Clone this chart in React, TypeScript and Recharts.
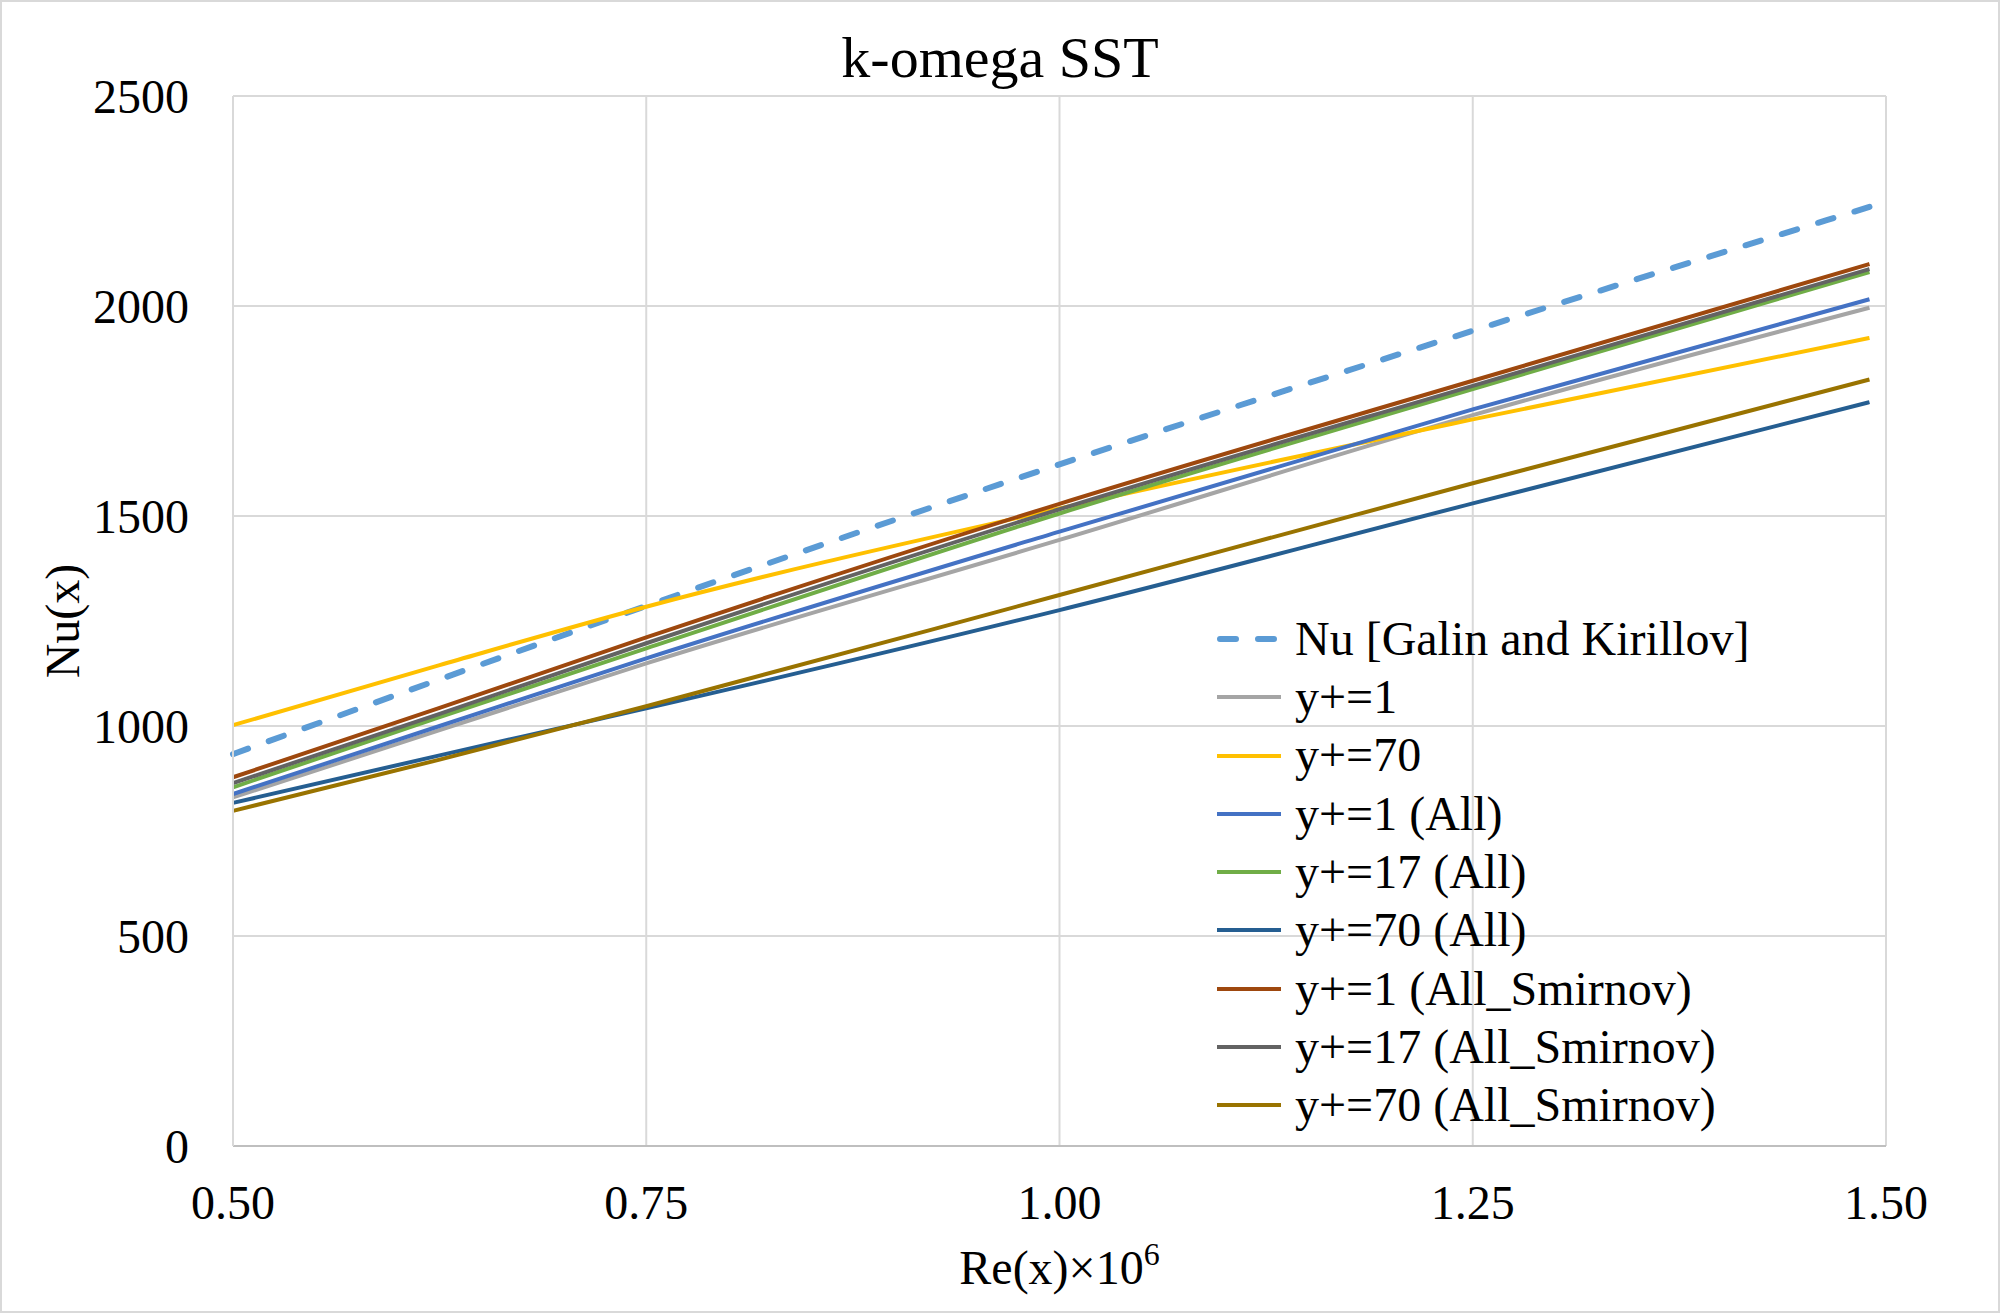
import React from "react";
import { CartesianGrid, Label, Legend, Line, LineChart, XAxis, YAxis } from "recharts";

// Re(x)×10^6 positions
const reX = [0.5, 0.625, 0.75, 1.0, 1.25, 1.49];

// Nu(x) values per series
const nuGalin = [933, 1111, 1286, 1623, 1941, 2236];
const yp1 = [830, 990, 1149, 1443, 1740, 1996];
const yp70 = [1002, 1145, 1284, 1518, 1730, 1924];
const yp1All = [838, 1000, 1161, 1463, 1754, 2016];
const yp17All = [854, 1021, 1185, 1506, 1802, 2081];
const yp70All = [817, 930, 1042, 1276, 1530, 1771];
const yp1Smir = [878, 1043, 1211, 1529, 1822, 2100];
const yp17Smir = [864, 1029, 1197, 1516, 1810, 2088];
const yp70Smir = [798, 920, 1047, 1312, 1578, 1825];

const xTicks = [0.5, 0.75, 1.0, 1.25, 1.5];
const yTicks = [0, 500, 1000, 1500, 2000, 2500];

const FONT = "'Liberation Serif', 'Times New Roman', serif";

interface SeriesDef {
	key: string;
	name: string;
	color: string;
	values: number[];
	dashed?: boolean;
}

const series: SeriesDef[] = [
	{ key: "galin", name: "Nu [Galin and Kirillov]", color: "#5B9BD5", values: nuGalin, dashed: true },
	{ key: "yp1", name: "y+=1", color: "#A5A5A5", values: yp1 },
	{ key: "yp70", name: "y+=70", color: "#FFC000", values: yp70 },
	{ key: "yp1All", name: "y+=1 (All)", color: "#4472C4", values: yp1All },
	{ key: "yp17All", name: "y+=17 (All)", color: "#70AD47", values: yp17All },
	{ key: "yp70All", name: "y+=70 (All)", color: "#255E91", values: yp70All },
	{ key: "yp1Smir", name: "y+=1 (All_Smirnov)", color: "#9E480E", values: yp1Smir },
	{ key: "yp17Smir", name: "y+=17 (All_Smirnov)", color: "#636363", values: yp17Smir },
	{ key: "yp70Smir", name: "y+=70 (All_Smirnov)", color: "#997300", values: yp70Smir },
];

const data = reX.map((x, i) => {
	const row: Record<string, number> = { x };
	series.forEach((s) => {
		row[s.key] = s.values[i];
	});
	return row;
});

const ROW_H = 58.3;
const LINE_W = 4;

const LegendBox = () => (
	<div style={{ fontFamily: FONT, fontSize: 48, color: "#000" }}>
		{series.map((s) => (
			<div key={s.key} style={{ display: "flex", alignItems: "center", height: ROW_H }}>
				<svg width={78} height={20} style={{ overflow: "visible", flex: "none" }}>
					<line
						x1={s.dashed ? 3 : 0}
						x2={s.dashed ? 61 : 64}
						y1={10}
						y2={10}
						stroke={s.color}
						strokeWidth={s.dashed ? 6 : LINE_W}
						strokeDasharray={s.dashed ? "16 22" : undefined}
						strokeLinecap={s.dashed ? "round" : "butt"}
					/>
				</svg>
				<span style={{ lineHeight: `${ROW_H}px`, whiteSpace: "nowrap" }}>{s.name}</span>
			</div>
		))}
	</div>
);

const XTitle = (props: any) => {
	const { x, y, width } = props.viewBox;
	return (
		<text x={x + width / 2} y={y + 138} textAnchor="middle" fontFamily={FONT} fontSize={48} fill="#000">
			Re(x)×10
			<tspan fontSize={32} dy={-19}>
				6
			</tspan>
		</text>
	);
};

const YTitle = (props: any) => {
	const { y, height } = props.viewBox;
	const cx = 62;
	const cy = y + height / 2;
	return (
		<text
			x={cx}
			y={cy}
			transform={`rotate(-90, ${cx}, ${cy})`}
			textAnchor="middle"
			dominantBaseline="central"
			fontFamily={FONT}
			fontSize={48}
			fill="#000"
		>
			Nu(x)
		</text>
	);
};

const App: React.FC = () => {
	return (
		<div style={{ position: "relative", width: 2000, height: 1313, background: "#fff" }}>
			<style>{`body{margin:0}`}</style>
			<LineChart width={2000} height={1313} data={data} margin={{ top: 96, right: 114, bottom: 0, left: 0 }}>
				<CartesianGrid stroke="#d9d9d9" strokeWidth={2} />
				<XAxis
					dataKey="x"
					type="number"
					domain={[0.5, 1.5]}
					ticks={xTicks}
					tickFormatter={(v) => Number(v).toFixed(2)}
					height={167}
					tickSize={0}
					tickMargin={39}
					tick={{ fontFamily: FONT, fontSize: 48, fill: "#000" }}
					axisLine={{ stroke: "#bfbfbf", strokeWidth: 2 }}
					interval={0}
				>
					<Label content={<XTitle />} />
				</XAxis>
				<YAxis
					type="number"
					domain={[0, 2500]}
					ticks={yTicks}
					width={233}
					tickSize={0}
					tickMargin={44}
					tick={{ fontFamily: FONT, fontSize: 48, fill: "#000" }}
					axisLine={{ stroke: "#d9d9d9", strokeWidth: 2 }}
					interval={0}
				>
					<Label content={<YTitle />} />
				</YAxis>
				<Legend
					layout="vertical"
					align="center"
					verticalAlign="middle"
					content={<LegendBox />}
					wrapperStyle={{ left: 1217, top: 639 - ROW_H / 2, width: "auto", height: "auto" }}
				/>
				{series.map((s) => (
					<Line
						key={s.key}
						dataKey={s.key}
						name={s.name}
						type="monotone"
						stroke={s.color}
						strokeWidth={s.dashed ? 6 : LINE_W}
						strokeDasharray={s.dashed ? "16 22" : undefined}
						strokeLinecap={s.dashed ? "round" : "butt"}
						dot={false}
						activeDot={false}
						isAnimationActive={false}
					/>
				))}
			</LineChart>
			<svg
				width={2000}
				height={1313}
				style={{ position: "absolute", left: 0, top: 0, pointerEvents: "none" }}
			>
				<text x={1000} y={77} textAnchor="middle" fontFamily={FONT} fontSize={58} fill="#000">
					k-omega SST
				</text>
				<rect x={1} y={1} width={1998} height={1311} fill="none" stroke="#d9d9d9" strokeWidth={2} />
			</svg>
		</div>
	);
};

export default App;
